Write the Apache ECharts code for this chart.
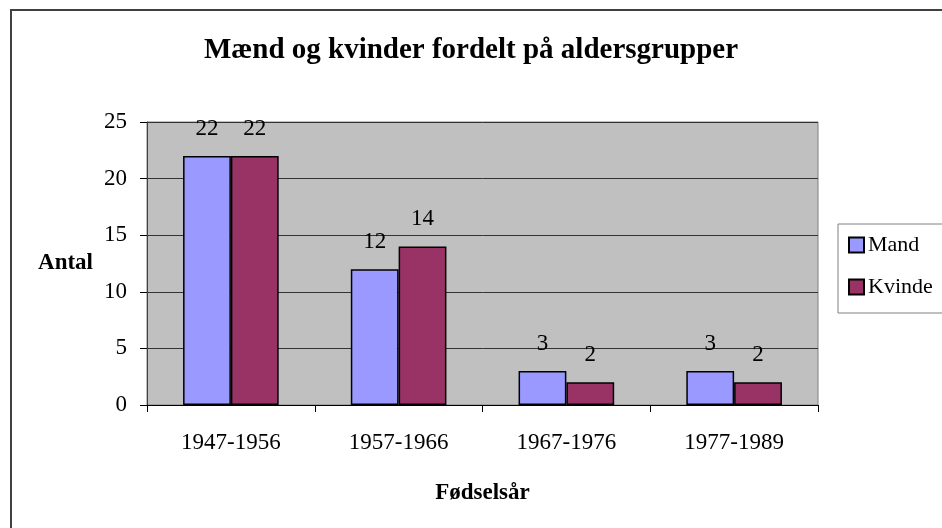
<!DOCTYPE html>
<html>
<head>
<meta charset="utf-8">
<script src="https://cdn.jsdelivr.net/npm/echarts@6/dist/echarts.min.js"></script>
<style>
  html, body { margin: 0; padding: 0; background: #fff; }
  #chart { width: 942px; height: 528px; }
</style>
</head>
<body>
<div id="chart"></div>
<script>
var categories = ['1947-1956', '1957-1966', '1967-1976', '1977-1989'];
var mand = [22, 12, 3, 3];
var kvinde = [22, 14, 2, 2];
var yTicks = [0, 5, 10, 15, 20, 25];

var font = '"Liberation Serif", "Times New Roman", serif';
var chart = echarts.init(document.getElementById('chart'));

var option = {
  animation: false,
  backgroundColor: '#ffffff',
  textStyle: { fontFamily: font, color: '#000' },
  title: {
    text: 'Mænd og kvinder fordelt på aldersgrupper',
    left: 'center',
    top: 31,
    textStyle: { fontFamily: font, fontSize: 29, fontWeight: 'bold', color: '#000' }
  },
  graphic: [{
    type: 'rect',
    shape: { x: 11, y: 10, width: 1000, height: 600 },
    style: { fill: null, stroke: '#404040', lineWidth: 2 },
    silent: true
  }],
  legend: {
    orient: 'vertical',
    left: 838,
    top: 224,
    padding: [10, 20, 15, 10],
    itemGap: 20,
    itemWidth: 15,
    itemHeight: 15,
    borderColor: '#808080',
    borderWidth: 1,
    textStyle: { fontFamily: font, fontSize: 22, color: '#000', padding: [0, 0, 0, -1] },
    data: [
      { name: 'Mand', icon: 'rect' },
      { name: 'Kvinde', icon: 'rect' }
    ]
  },
  grid: {
    left: 147,
    right: 124,
    top: 122,
    bottom: 123,
    show: true,
    backgroundColor: '#C0C0C0',
    borderColor: '#808080',
    borderWidth: 1
  },
  xAxis: {
    type: 'category',
    data: categories,
    name: 'Fødselsår',
    nameLocation: 'middle',
    nameGap: 77,
    nameTextStyle: { fontFamily: font, fontSize: 23, fontWeight: 'bold', color: '#000' },
    axisLine: { lineStyle: { color: '#000', width: 1 } },
    axisTick: { show: true, length: 7, alignWithLabel: false, lineStyle: { color: '#000' } },
    axisLabel: { fontFamily: font, fontSize: 23, color: '#000', margin: 26 },
    splitLine: { show: false }
  },
  yAxis: {
    type: 'value',
    min: yTicks[0],
    max: yTicks[yTicks.length - 1],
    interval: 5,
    name: 'Antal',
    nameLocation: 'middle',
    nameRotate: 0,
    nameGap: 54,
    nameTextStyle: { fontFamily: font, fontSize: 23, fontWeight: 'bold', color: '#000', align: 'right' },
    axisLine: { show: true, lineStyle: { color: '#404040', width: 1 } },
    axisTick: { show: true, length: 7, lineStyle: { color: '#000' } },
    axisLabel: { fontFamily: font, fontSize: 23, color: '#000', margin: 20 },
    splitLine: { show: true, lineStyle: { color: '#333', width: 1 } }
  },
  series: [
    {
      name: 'Mand',
      type: 'bar',
      data: mand,
      barGap: 0,
      barCategoryGap: '43%',
      itemStyle: { color: '#9999FF', borderColor: '#000', borderWidth: 1.5 },
      label: { show: true, position: 'top', distance: 16, fontFamily: font, fontSize: 23, color: '#000' }
    },
    {
      name: 'Kvinde',
      type: 'bar',
      data: kvinde,
      barGap: 0,
      barCategoryGap: '43%',
      itemStyle: { color: '#993366', borderColor: '#000', borderWidth: 1.5 },
      label: { show: true, position: 'top', distance: 16, fontFamily: font, fontSize: 23, color: '#000' }
    }
  ]
};
chart.setOption(option);
</script>
</body>
</html>
